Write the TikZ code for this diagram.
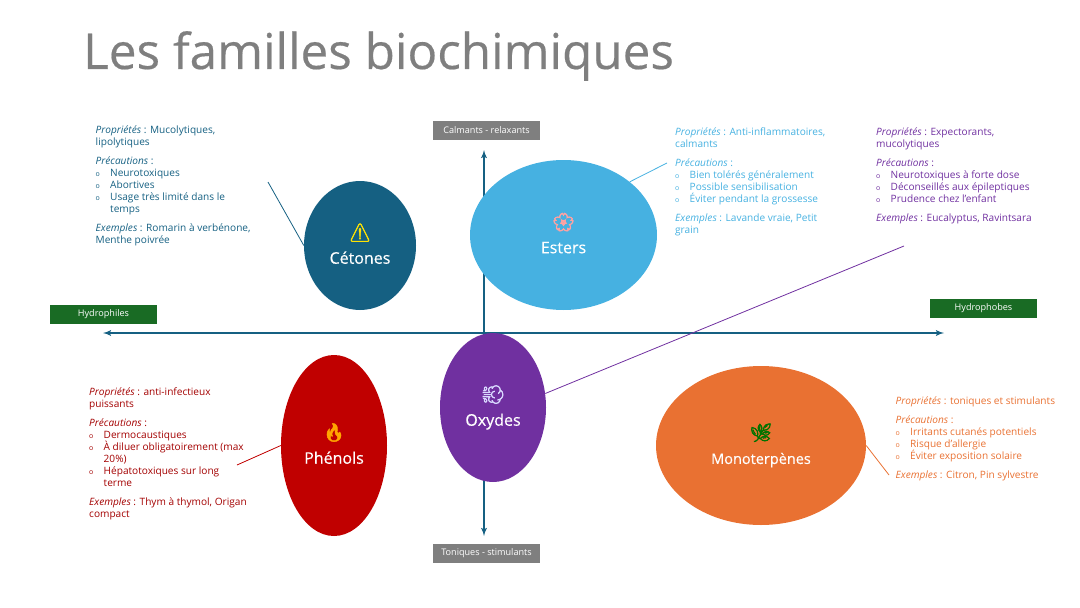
\documentclass[tikz,border=0pt]{standalone}
\usepackage{fontspec}
\setmainfont{Open Sans}
\newfontfamily\emojifont[FakeBold=2.5]{Noto Emoji}
\newfontfamily\mediumfont[FakeBold=0.4]{Open Sans}
\usetikzlibrary{shapes,arrows}
\definecolor{cetonecol}{HTML}{156082}
\definecolor{estercol}{HTML}{46B1E1}
\definecolor{oxydecol}{HTML}{7030A0}
\definecolor{phenolcol}{HTML}{C00000}
\definecolor{monocol}{HTML}{E97132}
\definecolor{greylabel}{HTML}{7F7F7F}
\definecolor{greenlabel}{HTML}{196B24}
\newcommand{\puce}[1]{\makebox[14.5pt][l]{\scriptsize o}#1}
\newcommand{\suite}[1]{\hspace*{14.5pt}#1}
\newcommand{\nomfamille}[3]{\rule{0pt}{14pt}{\emojifont\fontsize{18}{25}\selectfont\color{#1}#2}\\#3\vphantom{Ép}}
\tikzstyle{famille} = [ellipse, text=white, align=center, inner sep=0pt,
    font=\mediumfont\fontsize{16}{25}\selectfont]
\tikzstyle{bloc} = [anchor=north west, align=left, inner sep=0pt,
    font=\fontsize{10.1}{12}\selectfont]
\tikzstyle{axelabel} = [rectangle, text=white, minimum width=107pt, minimum height=19pt,
    inner sep=0pt, font=\fontsize{9.1}{10}\selectfont]
\tikzstyle{axe} = [draw, cetonecol, line width=1.8pt, latex'-latex']
\tikzstyle{line} = [draw, line width=0.8pt]

\begin{document}
\begin{tikzpicture}[x=1pt, y=-1pt]
    \useasboundingbox (0,0) rectangle (1080,608);

    \node [text=greylabel, anchor=west, inner sep=0pt, font=\mediumfont\fontsize{49.4}{55}\selectfont] (title) at (83,56) {Les familles biochimiques};

    % Axes, under the ellipses
    \coordinate (axeouest) at (103,333);
    \coordinate (axeest) at (944,333);
    \coordinate (axenord) at (484,150);
    \coordinate (axesud) at (484,536);
    \path [axe] (axeouest) -- (axeest);
    \path [axe] (axesud) -- (axenord);

    \node [axelabel, fill=greylabel, above of=axenord, node distance=20pt, xshift=2.5pt] (calmants) {Calmants - relaxants};
    \node [axelabel, fill=greylabel, below of=axesud, node distance=17pt, xshift=2.5pt] (toniques) {Toniques - stimulants};
    \node [axelabel, fill=greenlabel, above of=axeouest, node distance=18.5pt, xshift=0.5pt] (hydrophiles) {Hydrophiles};
    \node [axelabel, fill=greenlabel, above of=axeest, node distance=24.5pt, xshift=39.5pt] (hydrophobes) {Hydrophobes};

    % Ellipses
    \node [famille, fill=cetonecol, minimum width=112pt, minimum height=129pt] (cetones) at (360,245.5) {\nomfamille{yellow!85!orange}{⚠}{Cétones}};
    \node [famille, fill=estercol, minimum width=187pt, minimum height=150pt] (esters) at (563.5,235) {\nomfamille{pink!85!red}{🌸}{Esters}};
    \node [famille, fill=oxydecol, minimum width=106pt, minimum height=149pt] (oxydes) at (493,407.5) {\nomfamille{blue!15!white}{💨}{Oxydes}};
    \node [famille, fill=phenolcol, minimum width=106pt, minimum height=181pt] (phenols) at (334,445.5) {\nomfamille{orange!70!yellow}{🔥}{Phénols}};
    \node [famille, fill=monocol, minimum width=210pt, minimum height=159pt, font=\mediumfont\fontsize{14.5}{25}\selectfont] (monoterpenes) at (761,445.5) {\nomfamille{green!45!black}{🌿}{Monoterpènes}};

    % Texts
    \node [bloc, text=cetonecol] (txtcetones) at (95.5,126) {\textit{Propriétés} : Mucolytiques,\\lipolytiques\\[7pt]
        \textit{Précautions} :\\\puce{Neurotoxiques}\\\puce{Abortives}\\\puce{Usage très limité dans le}\\\suite{temps}\\[7pt]
        \textit{Exemples} : Romarin à verbénone,\\Menthe poivrée};
    \node [bloc, text=estercol] (txtesters) at (675,128) {\textit{Propriétés} : Anti-inflammatoires,\\calmants\\[7pt]
        \textit{Précautions} :\\\puce{Bien tolérés généralement}\\\puce{Possible sensibilisation}\\\puce{Éviter pendant la grossesse}\\[7pt]
        \textit{Exemples} : Lavande vraie, Petit\\grain};
    \node [bloc, text=oxydecol] (txtoxydes) at (876,128) {\textit{Propriétés} : Expectorants,\\mucolytiques\\[7pt]
        \textit{Précautions} :\\\puce{Neurotoxiques à forte dose}\\\puce{Déconseillés aux épileptiques}\\\puce{Prudence chez l'enfant}\\[7pt]
        \textit{Exemples} : Eucalyptus, Ravintsara};
    \node [bloc, text=phenolcol!85!black] (txtphenols) at (89,388) {\textit{Propriétés} : anti-infectieux\\puissants\\[7pt]
        \textit{Précautions} :\\\puce{Dermocaustiques}\\\puce{À diluer obligatoirement (max}\\\suite{20\%)}\\\puce{Hépatotoxiques sur long}\\\suite{terme}\\[7pt]
        \textit{Exemples} : Thym à thymol, Origan\\compact};
    \node [bloc, text=monocol] (txtmono) at (895.5,397) {\textit{Propriétés} : toniques et stimulants\\[7pt]
        \textit{Précautions} :\\\puce{Irritants cutanés potentiels}\\\puce{Risque d'allergie}\\\puce{Éviter exposition solaire}\\[7pt]
        \textit{Exemples} : Citron, Pin sylvestre};

    % Connectors
    \coordinate (fincetones) at (268,182);
    \coordinate (finesters) at (667,163);
    \coordinate (finoxydes) at (904,246);
    \coordinate (finphenols) at (237,465);
    \coordinate (finmono) at (889,475);
    \path [line, cetonecol] (fincetones) -- (cetones.west);
    \path [line, estercol] (finesters) -- (esters.north east);
    \path [line, oxydecol] (finoxydes) -- (oxydes.15);
    \path [line, phenolcol] (finphenols) -- (phenols.west);
    \path [line, monocol] (finmono) -- (monoterpenes.east);
\end{tikzpicture}
\end{document}
